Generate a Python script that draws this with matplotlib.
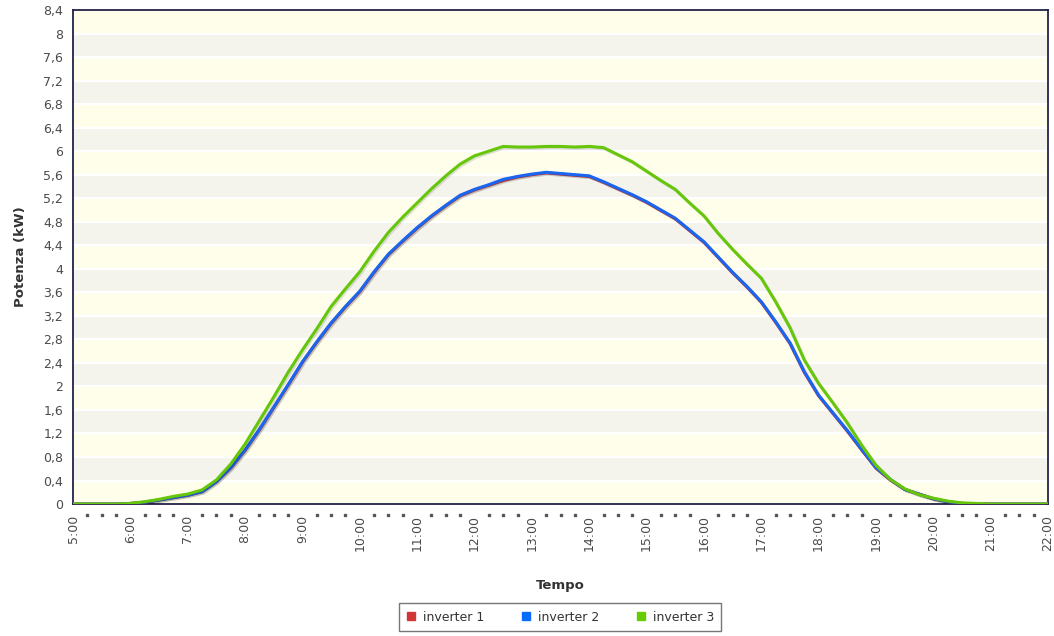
import numpy as np
import matplotlib
matplotlib.use("Agg")
import matplotlib.pyplot as plt
import matplotlib.patheffects as pe
from matplotlib.lines import Line2D
from matplotlib.ticker import FuncFormatter

# --- data: 15-minute samples from 5:00 to 22:00 ---------------------------
times = [5 + i * 0.25 for i in range(69)]
hour_labels = [f"{h}:00" for h in range(5, 23)]

inverter_1 = [
    0, 0, 0, 0, 0.01, 0.03, 0.07, 0.11, 0.15, 0.21, 0.38, 0.61,
    0.91, 1.26, 1.64, 2.02, 2.41, 2.75, 3.07, 3.35, 3.61, 3.94, 4.24, 4.47,
    4.69, 4.89, 5.07, 5.24, 5.34, 5.42, 5.50, 5.56, 5.60, 5.63, 5.61, 5.59,
    5.57, 5.47, 5.36, 5.25, 5.13, 4.99, 4.85, 4.65, 4.45, 4.19, 3.93, 3.69,
    3.43, 3.09, 2.73, 2.24, 1.84, 1.54, 1.24, 0.92, 0.61, 0.41, 0.25, 0.17,
    0.09, 0.04, 0.01, 0, 0, 0, 0, 0, 0,
]
inverter_2 = [
    0, 0, 0, 0, 0.01, 0.03, 0.07, 0.11, 0.15, 0.21, 0.38, 0.62,
    0.92, 1.27, 1.65, 2.03, 2.42, 2.76, 3.08, 3.36, 3.62, 3.95, 4.25, 4.48,
    4.70, 4.90, 5.08, 5.25, 5.35, 5.43, 5.52, 5.57, 5.61, 5.64, 5.62, 5.60,
    5.58, 5.48, 5.37, 5.26, 5.14, 5.00, 4.86, 4.66, 4.46, 4.20, 3.94, 3.70,
    3.44, 3.10, 2.74, 2.25, 1.85, 1.55, 1.25, 0.93, 0.62, 0.42, 0.25, 0.17,
    0.09, 0.04, 0.01, 0, 0, 0, 0, 0, 0,
]
inverter_3 = [
    0, 0, 0, 0, 0.01, 0.04, 0.08, 0.13, 0.17, 0.24, 0.41, 0.68,
    1.02, 1.42, 1.82, 2.24, 2.62, 2.98, 3.36, 3.66, 3.95, 4.30, 4.62, 4.88,
    5.12, 5.36, 5.58, 5.78, 5.92, 6.00, 6.08, 6.07, 6.07, 6.08, 6.08, 6.07,
    6.08, 6.06, 5.94, 5.82, 5.66, 5.50, 5.35, 5.12, 4.90, 4.60, 4.33, 4.08,
    3.84, 3.44, 3.00, 2.45, 2.05, 1.72, 1.38, 1.00, 0.66, 0.42, 0.26, 0.16,
    0.10, 0.05, 0.02, 0.01, 0, 0, 0, 0, 0,
]
series_names = ["inverter 1", "inverter 2", "inverter 3"]
series_colors = ["#cc3333", "#1a66f0", "#66c60a"]
legend_colors = ["#d13535", "#0a6cff", "#66cc00"]

y_max = 8.4
y_step = 0.4

# --- figure ---------------------------------------------------------------
fig = plt.figure(figsize=(10.54, 6.36), dpi=100)
ax = fig.add_axes([0.0693, 0.2075, 0.9250, 0.7768])

# alternating background bands
n_bands = int(round(y_max / y_step))
for k in range(n_bands):
    col = "#fefeea" if k % 2 == 0 else "#f4f4ec"
    ax.axhspan(k * y_step, (k + 1) * y_step, color=col, lw=0, zorder=0)
for k in range(1, n_bands):
    ax.axhline(k * y_step, color="white", lw=1.6, zorder=1)

shadow = [pe.SimpleLineShadow(offset=(1.0, -1.0), alpha=0.12, shadow_color="black"),
          pe.Normal()]
for vals, col in zip([inverter_1, inverter_2, inverter_3], series_colors):
    ax.plot(times, vals, color=col, lw=2.2, zorder=3,
            solid_joinstyle="round", path_effects=shadow)

ax.set_xlim(times[0], times[-1])
ax.set_ylim(0, y_max)

ax.set_yticks(np.arange(0, y_max + 0.001, y_step))
ax.yaxis.set_major_formatter(
    FuncFormatter(lambda v, p: f"{round(v, 1):g}".replace(".", ",")))
ax.set_xticks(range(5, 23))
ax.set_xticklabels(hour_labels, rotation=90, va="top", ha="center")
ax.tick_params(axis="both", length=0, labelsize=9, colors="#4a4a4a")
ax.tick_params(axis="y", pad=7)
ax.tick_params(axis="x", pad=8)

# quarter-hour dots under the x axis
trans = matplotlib.transforms.blended_transform_factory(ax.transData, ax.transAxes)
quarters = [t for t in times if abs(t - round(t)) > 1e-6]
ax.plot(quarters, [-0.022] * len(quarters), ls="", marker="s", ms=1.7,
        color="#555555", transform=trans, clip_on=False)

for side in ["left", "bottom", "top", "right"]:
    ax.spines[side].set_color("#22224a")
    ax.spines[side].set_linewidth(1.3)

ax.set_ylabel("Potenza (kW)", fontsize=9.5, fontweight="bold", color="#333333", labelpad=12)
ax.set_xlabel("Tempo", fontsize=9.5, fontweight="bold", color="#333333", labelpad=20)

handles = [Line2D([], [], ls="", marker="s", ms=6, color=c) for c in legend_colors]
leg = fig.legend(handles, series_names, loc="lower center",
                 bbox_to_anchor=(0.5315, -0.002), ncol=3, fontsize=9,
                 frameon=True, fancybox=False, handletextpad=0.5,
                 columnspacing=3.0, borderpad=0.6, handlelength=0.8)
leg.get_frame().set_edgecolor("#555555")
leg.get_frame().set_linewidth(1.0)
for t in leg.get_texts():
    t.set_color("#333333")

fig.savefig("out.png", dpi=100, facecolor="white")
